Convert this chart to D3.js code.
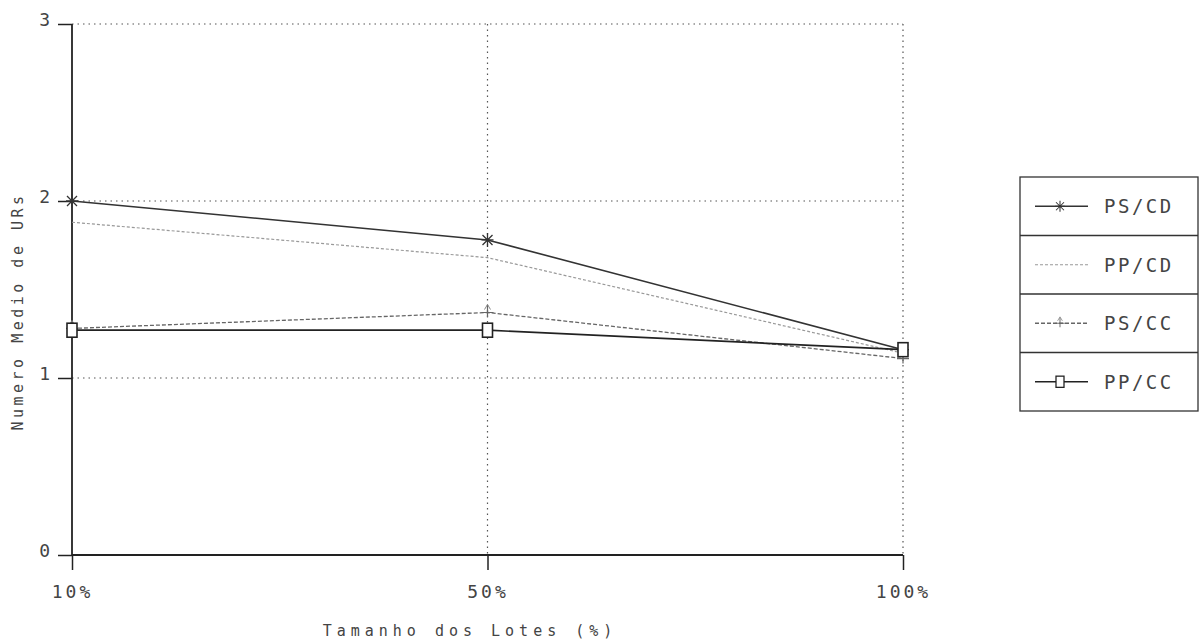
<!DOCTYPE html>
<html>
<head>
<meta charset="utf-8">
<script src="https://cdn.jsdelivr.net/npm/d3@7"></script>
<style>
body { margin: 0; background: #fff; }
text { font-family: "DejaVu Sans Mono", monospace; fill: #444; }
</style>
</head>
<body>
<svg id="chart"></svg>
<script>
var lotes = ["10%", "50%", "100%"];
var yTicks = [0, 1, 2, 3];
var seriesNames = ["PS/CD", "PP/CD", "PS/CC", "PP/CC"];
var psCD = [2.00, 1.78, 1.16];
var ppCD = [1.88, 1.68, 1.14];
var psCC = [1.28, 1.37, 1.11];
var ppCC = [1.27, 1.27, 1.16];

var screen = {width: 1202, height: 643};
var margins = {top: 24, left: 72, bottom: 88};
var graph = {width: 903 - 72, height: 555 - 24};

var svg = d3.select("#chart")
    .attr("width", screen.width)
    .attr("height", screen.height);

var x = d3.scalePoint()
    .domain(lotes)
    .range([0, graph.width]);

var y = d3.scaleLinear()
    .domain([0, 3])
    .range([graph.height, 0]);

var g = svg.append("g")
    .attr("transform", "translate(" + margins.left + "," + margins.top + ")");

// dotted grid
g.append("g").selectAll("line")
    .data(yTicks.filter(function(d) { return d > 0; }))
    .enter().append("line")
    .attr("x1", 0).attr("x2", graph.width)
    .attr("y1", function(d) { return y(d); })
    .attr("y2", function(d) { return y(d); })
    .attr("stroke", "#555")
    .attr("stroke-width", 1.2)
    .attr("stroke-dasharray", "1.5,4");

g.append("g").selectAll("line")
    .data(lotes.slice(1))
    .enter().append("line")
    .attr("x1", function(d) { return x(d); })
    .attr("x2", function(d) { return x(d); })
    .attr("y1", 0).attr("y2", graph.height)
    .attr("stroke", "#555")
    .attr("stroke-width", 1.2)
    .attr("stroke-dasharray", "1.5,4");

// axes
var yAxis = d3.axisLeft(y).tickValues(yTicks).tickSize(14).tickPadding(8).tickFormat(d3.format("d"));
var xAxis = d3.axisBottom(x).tickSize(15).tickPadding(15);

var ya = g.append("g").call(yAxis);
var xa = g.append("g").attr("transform", "translate(0," + graph.height + ")").call(xAxis);
[ya, xa].forEach(function(a) {
    a.select(".domain").remove();
    a.selectAll("line").attr("stroke", "#222").attr("stroke-width", 1.5);
    a.selectAll("text").style("font-size", "18px").attr("fill", "#444");
});
xa.selectAll("text").style("letter-spacing", "3px");
ya.selectAll("text").attr("dy", "0.1em");

g.append("line")
    .attr("x1", 0).attr("x2", 0).attr("y1", 0).attr("y2", graph.height)
    .attr("stroke", "#222").attr("stroke-width", 1.8);
g.append("line")
    .attr("x1", 0).attr("x2", graph.width).attr("y1", graph.height).attr("y2", graph.height)
    .attr("stroke", "#222").attr("stroke-width", 1.8);

// series
var series = [
    {name: seriesNames[0], values: psCD, color: "#333", dash: null, width: 1.6, marker: "star"},
    {name: seriesNames[1], values: ppCD, color: "#999", dash: "3,2", width: 1.2, marker: "none"},
    {name: seriesNames[2], values: psCC, color: "#666", dash: "4,2", width: 1.3, marker: "plus"},
    {name: seriesNames[3], values: ppCC, color: "#222", dash: null, width: 1.7, marker: "square"}
];

var line = d3.line()
    .x(function(d, i) { return x(lotes[i]); })
    .y(function(d) { return y(d); });

var drawMarker = function(sel, type, color) {
    if (type === "star") {
        sel.append("path")
            .attr("d", "M-6,0H6M0,-7V7M-5,-5L5,5M-5,5L5,-5")
            .attr("stroke", color).attr("stroke-width", 1.3).attr("fill", "none");
    } else if (type === "plus") {
        sel.append("path")
            .attr("d", "M-6,0H6M0,-7V5")
            .attr("stroke", color).attr("stroke-width", 1.2).attr("fill", "none");
        sel.append("path")
            .attr("d", "M-3,-3L0,-8L3,-3")
            .attr("stroke", "#888").attr("stroke-width", 1).attr("fill", "none");
    } else if (type === "square") {
        sel.append("rect")
            .attr("x", -5).attr("y", -7).attr("width", 10).attr("height", 14)
            .attr("stroke", color).attr("stroke-width", 1.6).attr("fill", "#fff");
    }
};

series.forEach(function(s) {
    g.append("path")
        .datum(s.values)
        .attr("d", line)
        .attr("fill", "none")
        .attr("stroke", s.color)
        .attr("stroke-width", s.width)
        .attr("stroke-dasharray", s.dash);

    g.append("g").selectAll("g")
        .data(s.values)
        .enter().append("g")
        .attr("transform", function(d, i) { return "translate(" + x(lotes[i]) + "," + y(d) + ")"; })
        .each(function() { drawMarker(d3.select(this), s.marker, s.color); });
});

// axis titles
svg.append("text")
    .attr("transform", "translate(23," + (margins.top + graph.height / 2 + 22) + ") rotate(-90)")
    .attr("text-anchor", "middle")
    .style("font-size", "15px")
    .style("letter-spacing", "3.5px")
    .attr("fill", "#555")
    .text("Numero Medio de URs");

svg.append("text")
    .attr("x", 470).attr("y", 636)
    .attr("text-anchor", "middle")
    .style("font-size", "15px")
    .style("letter-spacing", "5px")
    .attr("fill", "#555")
    .text("Tamanho dos Lotes (%)");

// legend
var legend = svg.append("g").attr("transform", "translate(1020,177)");
var rowH = 58.5;
legend.append("rect")
    .attr("x", 0).attr("y", 0).attr("width", 178).attr("height", rowH * 4)
    .attr("fill", "none").attr("stroke", "#333").attr("stroke-width", 1.3);

var rows = legend.selectAll("g.row")
    .data(series)
    .enter().append("g")
    .attr("class", "row")
    .attr("transform", function(d, i) { return "translate(0," + (i * rowH) + ")"; });

rows.filter(function(d, i) { return i > 0; })
    .append("line")
    .attr("x1", 0).attr("x2", 178).attr("y1", 0).attr("y2", 0)
    .attr("stroke", "#333").attr("stroke-width", 1.3);

rows.append("line")
    .attr("x1", 15).attr("x2", 68)
    .attr("y1", rowH / 2).attr("y2", rowH / 2)
    .attr("stroke", function(d) { return d.color; })
    .attr("stroke-width", function(d) { return d.width; })
    .attr("stroke-dasharray", function(d) { return d.dash; });

rows.append("g")
    .attr("transform", "translate(40," + (rowH / 2) + ") scale(0.8)")
    .each(function(d) { drawMarker(d3.select(this), d.marker, d.color); });

rows.append("text")
    .attr("x", 84).attr("y", rowH / 2 + 7)
    .style("font-size", "19px")
    .style("letter-spacing", "2.5px")
    .attr("fill", "#555")
    .text(function(d) { return d.name; });
</script>
</body>
</html>
